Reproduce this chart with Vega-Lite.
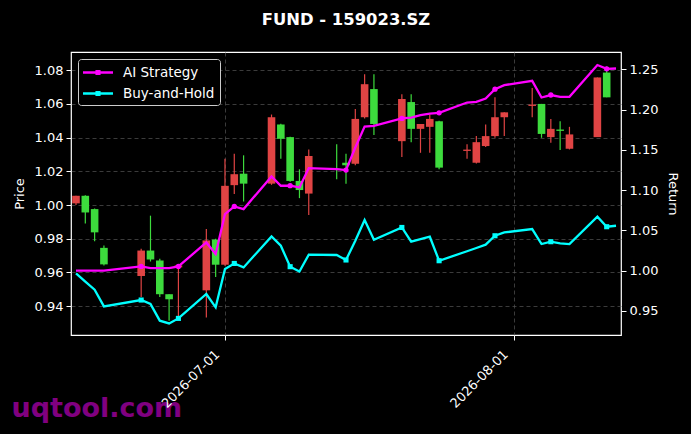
{
  "$schema": "https://vega.github.io/schema/vega-lite/v6.json",
  "width": 550,
  "height": 283,
  "autosize": {"type": "none"},
  "padding": {"left": 71, "top": 52, "right": 70, "bottom": 99},
  "background": "#000000",
  "config": {
    "view": {"stroke": "#ffffff", "strokeWidth": 1.2},
    "font": "DejaVu Sans",
    "axis": {
      "labelFont": "DejaVu Sans",
      "labelFontSize": 13,
      "labelColor": "#ffffff",
      "titleFont": "DejaVu Sans",
      "titleFontSize": 13,
      "titleFontWeight": "normal",
      "titleColor": "#ffffff",
      "tickColor": "#ffffff",
      "tickSize": 5,
      "tickWidth": 1,
      "domain": false,
      "gridColor": "#555555",
      "gridDash": [4, 3],
      "gridWidth": 0.7
    }
  },
  "title": {
    "text": "FUND - 159023.SZ",
    "color": "#ffffff",
    "font": "DejaVu Sans",
    "fontSize": 16.4,
    "fontWeight": "bold",
    "anchor": "middle",
    "baseline": "alphabetic",
    "offset": 11
  },
  "datasets": {
    "candles": [
      {"date": "2026-06-15", "open": 1.0010, "high": 1.0055, "low": 1.0000, "close": 1.0055},
      {"date": "2026-06-16", "open": 1.0055, "high": 1.0058, "low": 0.9891, "close": 0.9956},
      {"date": "2026-06-17", "open": 0.9976, "high": 0.9980, "low": 0.9785, "close": 0.9838},
      {"date": "2026-06-18", "open": 0.9746, "high": 0.9760, "low": 0.9642, "close": 0.9648},
      {"date": "2026-06-22", "open": 0.9579, "high": 0.9740, "low": 0.9455, "close": 0.9730},
      {"date": "2026-06-23", "open": 0.9730, "high": 0.9937, "low": 0.9665, "close": 0.9677},
      {"date": "2026-06-24", "open": 0.9671, "high": 0.9681, "low": 0.9455, "close": 0.9471},
      {"date": "2026-06-25", "open": 0.9471, "high": 0.9471, "low": 0.9313, "close": 0.9441},
      {"date": "2026-06-26", "open": 0.9630, "high": 0.9645, "low": 0.9337, "close": 0.9642},
      {"date": "2026-06-29", "open": 0.9494, "high": 0.9858, "low": 0.9333, "close": 0.9790},
      {"date": "2026-06-30", "open": 0.9795, "high": 0.9800, "low": 0.9573, "close": 0.9646},
      {"date": "2026-07-01", "open": 0.9646, "high": 1.0275, "low": 0.9640, "close": 1.0114},
      {"date": "2026-07-02", "open": 1.0118, "high": 1.0304, "low": 1.0065, "close": 1.0183},
      {"date": "2026-07-03", "open": 1.0186, "high": 1.0295, "low": 1.0021, "close": 1.0127},
      {"date": "2026-07-06", "open": 1.0127, "high": 1.0537, "low": 1.0120, "close": 1.0521},
      {"date": "2026-07-07", "open": 1.0478, "high": 1.0482, "low": 1.0275, "close": 1.0393},
      {"date": "2026-07-08", "open": 1.0403, "high": 1.0405, "low": 1.0138, "close": 1.0143},
      {"date": "2026-07-09", "open": 1.0143, "high": 1.0212, "low": 1.0041, "close": 1.0089},
      {"date": "2026-07-10", "open": 1.0068, "high": 1.0330, "low": 0.9941, "close": 1.0291},
      {"date": "2026-07-13", "open": 1.0215, "high": 1.0360, "low": 1.0153, "close": 1.0208},
      {"date": "2026-07-14", "open": 1.0251, "high": 1.0304, "low": 1.0127, "close": 1.0236},
      {"date": "2026-07-15", "open": 1.0245, "high": 1.0570, "low": 1.0236, "close": 1.0511},
      {"date": "2026-07-16", "open": 1.0521, "high": 1.0776, "low": 1.0513, "close": 1.0717},
      {"date": "2026-07-17", "open": 1.0688, "high": 1.0776, "low": 1.0415, "close": 1.0481},
      {"date": "2026-07-20", "open": 1.0379, "high": 1.0658, "low": 1.0285, "close": 1.0629},
      {"date": "2026-07-21", "open": 1.0611, "high": 1.0658, "low": 1.0373, "close": 1.0452},
      {"date": "2026-07-22", "open": 1.0452, "high": 1.0481, "low": 1.0310, "close": 1.0481},
      {"date": "2026-07-23", "open": 1.0464, "high": 1.0537, "low": 1.0310, "close": 1.0511},
      {"date": "2026-07-24", "open": 1.0497, "high": 1.0500, "low": 1.0212, "close": 1.0222},
      {"date": "2026-07-27", "open": 1.0321, "high": 1.0360, "low": 1.0275, "close": 1.0329},
      {"date": "2026-07-28", "open": 1.0251, "high": 1.0409, "low": 1.0247, "close": 1.0373},
      {"date": "2026-07-29", "open": 1.0350, "high": 1.0478, "low": 1.0345, "close": 1.0409},
      {"date": "2026-07-30", "open": 1.0409, "high": 1.0639, "low": 1.0399, "close": 1.0521},
      {"date": "2026-07-31", "open": 1.0521, "high": 1.0550, "low": 1.0409, "close": 1.0550},
      {"date": "2026-08-03", "open": 1.0588, "high": 1.0694, "low": 1.0521, "close": 1.0596},
      {"date": "2026-08-04", "open": 1.0600, "high": 1.0600, "low": 1.0399, "close": 1.0422},
      {"date": "2026-08-05", "open": 1.0403, "high": 1.0511, "low": 1.0370, "close": 1.0452},
      {"date": "2026-08-06", "open": 1.0448, "high": 1.0497, "low": 1.0326, "close": 1.0440},
      {"date": "2026-08-07", "open": 1.0334, "high": 1.0464, "low": 1.0330, "close": 1.0419},
      {"date": "2026-08-10", "open": 1.0403, "high": 1.0757, "low": 1.0403, "close": 1.0757},
      {"date": "2026-08-11", "open": 1.0786, "high": 1.0822, "low": 1.0639, "close": 1.0639}
    ],
    "returns": [
      {"i": 0, "date": "2026-06-15", "AI Strategy": 1.0000, "Buy-and-Hold": 0.9967},
      {"i": 1, "date": "2026-06-16", "AI Strategy": 1.0000, "Buy-and-Hold": 0.9864},
      {"i": 2, "date": "2026-06-17", "AI Strategy": 1.0000, "Buy-and-Hold": 0.9764},
      {"i": 3, "date": "2026-06-18", "AI Strategy": 1.0000, "Buy-and-Hold": 0.9557},
      {"i": 4, "date": "2026-06-22", "AI Strategy": 1.0053, "Buy-and-Hold": 0.9636},
      {"i": 5, "date": "2026-06-23", "AI Strategy": 1.0033, "Buy-and-Hold": 0.9587},
      {"i": 6, "date": "2026-06-24", "AI Strategy": 1.0033, "Buy-and-Hold": 0.9380},
      {"i": 7, "date": "2026-06-25", "AI Strategy": 1.0033, "Buy-and-Hold": 0.9346},
      {"i": 8, "date": "2026-06-26", "AI Strategy": 1.0053, "Buy-and-Hold": 0.9408},
      {"i": 9, "date": "2026-06-29", "AI Strategy": 1.0351, "Buy-and-Hold": 0.9711},
      {"i": 10, "date": "2026-06-30", "AI Strategy": 1.0207, "Buy-and-Hold": 0.9545},
      {"i": 11, "date": "2026-07-01", "AI Strategy": 1.0703, "Buy-and-Hold": 1.0021},
      {"i": 12, "date": "2026-07-02", "AI Strategy": 1.0798, "Buy-and-Hold": 1.0090},
      {"i": 13, "date": "2026-07-03", "AI Strategy": 1.0765, "Buy-and-Hold": 1.0041},
      {"i": 14, "date": "2026-07-06", "AI Strategy": 1.1170, "Buy-and-Hold": 1.0426},
      {"i": 15, "date": "2026-07-07", "AI Strategy": 1.1055, "Buy-and-Hold": 1.0310},
      {"i": 16, "date": "2026-07-08", "AI Strategy": 1.1055, "Buy-and-Hold": 1.0050},
      {"i": 17, "date": "2026-07-09", "AI Strategy": 1.1034, "Buy-and-Hold": 0.9991},
      {"i": 18, "date": "2026-07-10", "AI Strategy": 1.1274, "Buy-and-Hold": 1.0199},
      {"i": 19, "date": "2026-07-13", "AI Strategy": 1.1262, "Buy-and-Hold": 1.0195},
      {"i": 20, "date": "2026-07-14", "AI Strategy": 1.1249, "Buy-and-Hold": 1.0133},
      {"i": 21, "date": "2026-07-15", "AI Strategy": 1.1530, "Buy-and-Hold": 1.0372},
      {"i": 22, "date": "2026-07-16", "AI Strategy": 1.1790, "Buy-and-Hold": 1.0629},
      {"i": 23, "date": "2026-07-17", "AI Strategy": 1.1799, "Buy-and-Hold": 1.0385},
      {"i": 24, "date": "2026-07-20", "AI Strategy": 1.1890, "Buy-and-Hold": 1.0537},
      {"i": 25, "date": "2026-07-21", "AI Strategy": 1.1900, "Buy-and-Hold": 1.0360},
      {"i": 26, "date": "2026-07-22", "AI Strategy": 1.1930, "Buy-and-Hold": 1.0393},
      {"i": 27, "date": "2026-07-23", "AI Strategy": 1.1950, "Buy-and-Hold": 1.0422},
      {"i": 28, "date": "2026-07-24", "AI Strategy": 1.1960, "Buy-and-Hold": 1.0124},
      {"i": 29, "date": "2026-07-27", "AI Strategy": 1.2088, "Buy-and-Hold": 1.0242},
      {"i": 30, "date": "2026-07-28", "AI Strategy": 1.2097, "Buy-and-Hold": 1.0282},
      {"i": 31, "date": "2026-07-29", "AI Strategy": 1.2138, "Buy-and-Hold": 1.0323},
      {"i": 32, "date": "2026-07-30", "AI Strategy": 1.2254, "Buy-and-Hold": 1.0434},
      {"i": 33, "date": "2026-07-31", "AI Strategy": 1.2304, "Buy-and-Hold": 1.0475},
      {"i": 34, "date": "2026-08-03", "AI Strategy": 1.2357, "Buy-and-Hold": 1.0517},
      {"i": 35, "date": "2026-08-04", "AI Strategy": 1.2150, "Buy-and-Hold": 1.0331},
      {"i": 36, "date": "2026-08-05", "AI Strategy": 1.2181, "Buy-and-Hold": 1.0360},
      {"i": 37, "date": "2026-08-06", "AI Strategy": 1.2159, "Buy-and-Hold": 1.0339},
      {"i": 38, "date": "2026-08-07", "AI Strategy": 1.2159, "Buy-and-Hold": 1.0331},
      {"i": 39, "date": "2026-08-10", "AI Strategy": 1.2553, "Buy-and-Hold": 1.0670},
      {"i": 40, "date": "2026-08-11", "AI Strategy": 1.2506, "Buy-and-Hold": 1.0546},
      {"i": 41, "date": "2026-08-12", "AI Strategy": 1.2510, "Buy-and-Hold": 1.0558}
    ]
  },
  "layer": [
    {
      "data": {"name": "candles"},
      "encoding": {
        "x": {
          "field": "date",
          "type": "temporal",
          "scale": {
            "type": "utc",
            "domain": [
              {"year": 2026, "month": 6, "date": 15, "utc": true},
              {"year": 2026, "month": 8, "date": 12, "utc": true}
            ]
          },
          "axis": {
            "orient": "bottom",
            "labels": false,
            "ticks": false,
            "grid": false,
            "title": "uqtool.com",
            "titleColor": "#800080",
            "titleFontSize": 27,
            "titleFontWeight": "bold",
            "titleAlign": "left",
            "titleAnchor": "start",
            "titleBaseline": "alphabetic",
            "titleAngle": 0,
            "titleX": -60,
            "titleY": 81
          }
        }
      },
      "layer": [
        {
          "mark": {"type": "rule", "strokeWidth": 1.2, "clip": true},
          "encoding": {
            "y": {
              "field": "low",
              "type": "quantitative",
              "scale": {"domain": [0.9229, 1.0908], "nice": false, "zero": false},
              "axis": {"title": "Price", "orient": "left", "values": [0.94, 0.96, 0.98, 1.0, 1.02, 1.04, 1.06, 1.08], "format": ".2f", "grid": true, "titlePadding": 8, "labelPadding": 3}
            },
            "y2": {"field": "high"},
            "color": {
              "condition": {"test": "datum.close >= datum.open", "value": "#e04444"},
              "value": "#3ddb3d"
            }
          }
        },
        {
          "mark": {"type": "bar", "width": 7.6, "clip": true},
          "encoding": {
            "y": {"field": "open", "type": "quantitative"},
            "y2": {"field": "close"},
            "color": {
              "condition": {"test": "datum.close >= datum.open", "value": "#e04444"},
              "value": "#3ddb3d"
            }
          }
        }
      ]
    },
    {
      "data": {"name": "returns"},
      "transform": [
        {"fold": ["AI Strategy", "Buy-and-Hold"], "as": ["series", "value"]}
      ],
      "encoding": {
        "x": {
          "field": "date",
          "type": "temporal",
          "axis": {
            "orient": "bottom",
            "values": [
              {"year": 2026, "month": 7, "date": 1, "utc": true},
              {"year": 2026, "month": 8, "date": 1, "utc": true}
            ],
            "labelExpr": "utcFormat(datum.value, '%Y-%m-%d')",
            "labelAngle": -45,
            "labelAlign": "right",
            "labelBaseline": "bottom",
            "labelPadding": 17,
            "labelOffset": -3,
            "grid": true,
            "title": null
          }
        }
      },
      "layer": [
        {
          "mark": {"type": "line", "strokeWidth": 2.3, "clip": true},
          "encoding": {
            "y": {
              "field": "value",
              "type": "quantitative",
              "scale": {"domain": [0.9202, 1.2715], "nice": false, "zero": false},
              "axis": {"title": "Return", "orient": "right", "values": [0.95, 1.0, 1.05, 1.1, 1.15, 1.2, 1.25], "format": ".2f", "grid": false, "titlePadding": 8, "labelPadding": 3}
            },
            "color": {
              "field": "series",
              "type": "nominal",
              "scale": {"domain": ["AI Strategy", "Buy-and-Hold"], "range": ["#ff00ff", "#00ffff"]},
              "legend": {
                "title": null,
                "orient": "top-left",
                "offset": 7,
                "padding": 5,
                "fillColor": "#000000",
                "strokeColor": "#cccccc",
                "cornerRadius": 3,
                "labelColor": "#ffffff",
                "labelFont": "DejaVu Sans",
                "labelFontSize": 13.5,
                "labelOffset": 23,
                "rowPadding": 6,
                "symbolType": "M-1.214,0L3.071,0M0.729,-0.2L1.129,-0.2L1.129,0.2L0.729,0.2Z",
                "symbolSize": 196,
                "symbolStrokeWidth": 2.3
              }
            }
          }
        },
        {
          "transform": [{"filter": "datum.i % 4 == 0 && datum.i > 0 && datum.series == 'AI Strategy'"}],
          "mark": {"type": "point", "filled": true, "opacity": 1, "clip": true, "shape": "circle", "size": 28},
          "encoding": {
            "y": {"field": "value", "type": "quantitative"},
            "color": {"field": "series", "type": "nominal"}
          }
        },
        {
          "transform": [{"filter": "datum.i % 4 == 0 && datum.i > 0 && datum.series == 'Buy-and-Hold'"}],
          "mark": {"type": "point", "filled": true, "opacity": 1, "clip": true, "shape": "square", "size": 26},
          "encoding": {
            "y": {"field": "value", "type": "quantitative"},
            "color": {"field": "series", "type": "nominal"}
          }
        }
      ]
    }
  ],
  "resolve": {"scale": {"y": "independent"}, "axis": {"x": "independent"}}
}
